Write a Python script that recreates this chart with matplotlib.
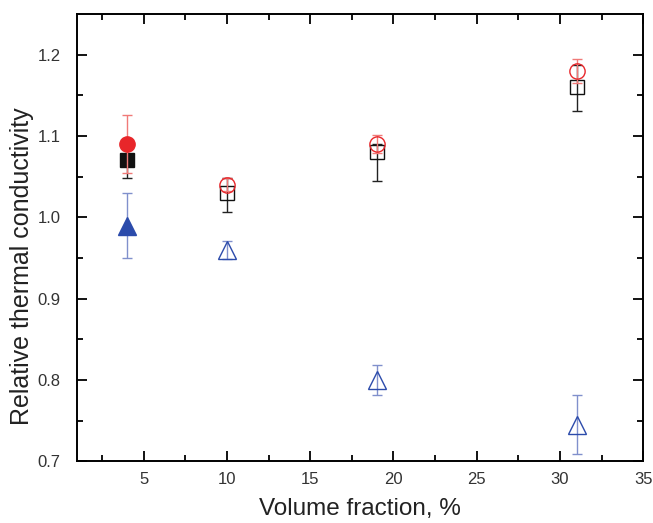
import numpy as np
import matplotlib.pyplot as plt

plt.rcParams['font.family'] = ['Liberation Sans', 'DejaVu Sans']

# data
vol = np.array([4, 10, 19, 31])
k_sq = np.array([1.07, 1.03, 1.08, 1.16])
e_sq_lo = np.array([0.022, 0.023, 0.035, 0.029])
e_sq_hi = np.array([0.02, 0.018, 0.01, 0.028])
k_ci = np.array([1.09, 1.04, 1.09, 1.18])
e_ci = np.array([0.036, 0.008, 0.011, 0.015])
k_tr = np.array([0.99, 0.96, 0.80, 0.745])
e_tr = np.array([0.04, 0.011, 0.019, 0.036])

fig = plt.figure(figsize=(6.53, 5.23), dpi=100)
ax = fig.add_axes([0.118, 0.118, 0.867, 0.855])

series = [
    (k_tr, [e_tr, e_tr], '^', '#2b4bab', '#8090cc', 12.5),
    (k_sq, [e_sq_lo, e_sq_hi], 's', '#111111', '#222222', 10),
    (k_ci, [e_ci, e_ci], 'o', '#e8262a', '#f07a78', 11),
]
for i, (y, e, m, c, ec, ms) in enumerate(series):
    ax.errorbar(vol, y, yerr=e, fmt='none', ecolor=ec, elinewidth=1.0,
                capsize=3.5, capthick=1.0, zorder=2 + i)
    # first point filled, the rest open
    ax.plot(vol[:1], y[:1], ls='none', marker=m, ms=ms, mfc=c, mec=c, zorder=2.5 + i)
    ax.plot(vol[1:], y[1:], ls='none', marker=m, ms=ms, mfc='none', mec=c,
            mew=1.0, zorder=2.5 + i)

ax.set_xlim(1, 35)
ax.set_ylim(0.7, 1.25)
ax.set_xticks([5, 10, 15, 20, 25, 30, 35])
ax.set_xticks(np.arange(2.5, 35, 5), minor=True)
ax.set_yticks([0.7, 0.8, 0.9, 1.0, 1.1, 1.2])
ax.set_yticks(np.arange(0.75, 1.25, 0.1), minor=True)
ax.set_yticklabels(['0.7', '0.8', '0.9', '1.0', '1.1', '1.2'])
ax.tick_params(which='both', direction='in', top=True, right=True,
               labelsize=12, labelcolor='#333333', width=1.3)
ax.tick_params(axis='x', pad=8)
ax.tick_params(axis='y', pad=12)
ax.tick_params(which='major', length=7)
ax.tick_params(which='minor', length=4)
for s in ax.spines.values():
    s.set_linewidth(1.4)

ax.set_xlabel('Volume fraction, %', fontsize=17.5, color='#222222', va='center')
ax.set_ylabel('Relative thermal conductivity', fontsize=18, color='#222222', va='center')
ax.xaxis.set_label_coords(0.5, -0.107)
ax.yaxis.set_label_coords(-0.097, 0.436)

plt.savefig('out.png', dpi=100)
